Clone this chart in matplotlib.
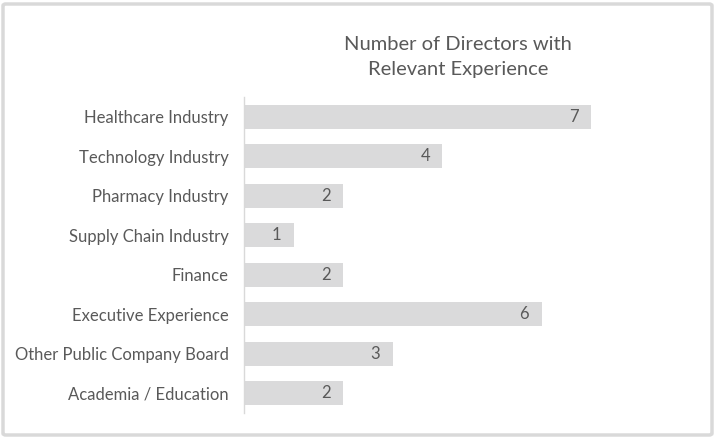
import matplotlib.pyplot as plt
from matplotlib.patches import FancyBboxPatch

categories = ["Healthcare Industry", "Technology Industry", "Pharmacy Industry",
              "Supply Chain Industry", "Finance", "Executive Experience",
              "Other Public Company Board", "Academia / Education"]
values = [7, 4, 2, 1, 2, 6, 3, 2]
title = "Number of Directors with\nRelevant Experience"

plt.rcParams['font.family'] = ['Lato', 'DejaVu Sans']
txt = "#595959"

W, H = 716, 438
fig = plt.figure(figsize=(W / 100, H / 100), dpi=100)

# outer border
fig.patches.append(FancyBboxPatch((3 / W, 3 / H), (W - 7) / W, (H - 7) / H,
                                  boxstyle="round,pad=0,rounding_size=0.004",
                                  transform=fig.transFigure, fill=False,
                                  edgecolor="#d9d9d9", linewidth=2.5))

ax = fig.add_axes([244 / W, (H - 413) / H, 8 * 49.6 / W, 316 / H])
y = list(range(len(categories)))
ax.barh(y, values, height=0.6, color="#dadadb")
ax.set_ylim(len(categories) - 0.5, -0.5)
ax.set_xlim(0, 8)
ax.set_yticks(y)
ax.set_yticklabels(categories, fontsize=12, color=txt)
ax.tick_params(axis="y", length=0, pad=11)
ax.set_xticks([])
for s in ["top", "right", "bottom"]:
    ax.spines[s].set_visible(False)
ax.spines["left"].set_color("#d9d9d9")
ax.spines["left"].set_linewidth(1)

for i, v in enumerate(values):
    ax.text(v - 0.25, i, str(v), ha="right", va="center", fontsize=12, color=txt)

fig.text(458 / W, 1 - 57 / H, title, ha="center", va="center",
         fontsize=14.5, color=txt, linespacing=1.6)

fig.savefig("out.png", dpi=100)
